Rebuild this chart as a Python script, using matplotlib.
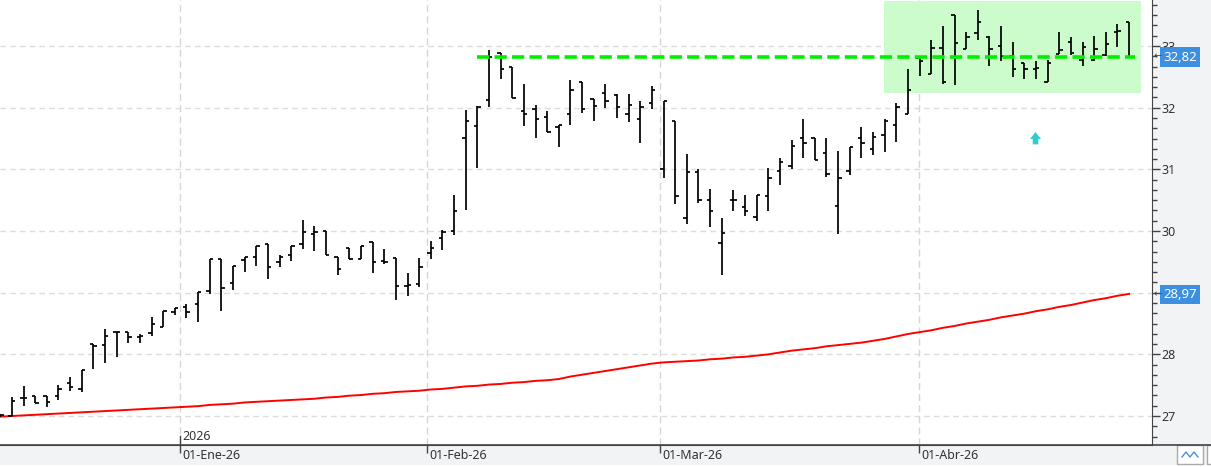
import matplotlib
matplotlib.use("Agg")
import matplotlib.pyplot as plt
from matplotlib.patches import Rectangle
from matplotlib.ticker import MultipleLocator, FixedLocator
import numpy as np

plt.rcParams['font.family'] = ['Noto Sans', 'DejaVu Sans']

# daily OHLC bars
opens = [27.00, 27.00, 27.30, 27.33, 27.33, 27.32, 27.54, 27.43, 28.17, 28.15,
         28.36, 28.37, 28.28, 28.34, 28.45, 28.68, 28.77, 28.81, 29.03, 29.55,
         29.16, 29.53, 29.58, 29.79, 29.50, 29.61, 29.79, 29.95, 30.00, 29.58,
         29.73, 29.54, 29.82, 29.52, 29.56, 29.11, 29.14, 29.64, 29.88, 30.00,
         31.51, 31.70, 32.13, 32.89, 32.66, 31.95, 31.98, 31.85, 31.69, 31.90,
         32.42, 32.14, 32.24, 32.21, 31.90, 31.82, 32.08, 31.00, 31.78, 30.21,
         30.96, 30.51, 29.80, 30.51, 30.39, 30.23, 30.56, 30.97, 31.06, 31.51,
         31.51, 31.26, 30.40, 30.97, 31.51, 31.33, 31.56, 31.72, 31.90, 32.81,
         32.55, 32.97, 33.51, 32.95, 33.21, 33.14, 33.00, 32.83, 32.73, 32.62,
         32.41, 32.87, 33.07, 32.78, 32.78, 32.86, 33.23, 33.39]
highs = [27.03, 27.31, 27.49, 27.33, 27.33, 27.51, 27.64, 27.75, 28.17, 28.41,
         28.36, 28.37, 28.33, 28.60, 28.71, 28.75, 28.81, 29.01, 29.55, 29.55,
         29.44, 29.58, 29.75, 29.79, 29.61, 29.76, 30.18, 30.08, 30.00, 29.58,
         29.73, 29.76, 29.82, 29.71, 29.56, 29.32, 29.56, 29.84, 30.02, 30.59,
         31.97, 32.03, 32.93, 32.89, 32.66, 32.39, 32.04, 31.94, 31.72, 32.45,
         32.42, 32.14, 32.39, 32.22, 32.22, 32.11, 32.35, 32.11, 31.78, 31.25,
         31.00, 30.68, 30.21, 30.66, 30.59, 30.59, 31.02, 31.18, 31.48, 31.81,
         31.51, 31.51, 31.29, 31.37, 31.69, 31.61, 31.81, 32.08, 32.62, 32.83,
         33.10, 33.32, 33.51, 33.23, 33.59, 33.16, 33.33, 33.06, 32.73, 32.75,
         32.78, 33.23, 33.15, 33.07, 33.17, 33.23, 33.36, 33.39]
lows = [26.98, 27.00, 27.17, 27.21, 27.14, 27.26, 27.41, 27.39, 27.77, 27.86,
        27.95, 28.19, 28.19, 28.29, 28.45, 28.64, 28.59, 28.53, 28.98, 28.71,
        29.05, 29.34, 29.44, 29.22, 29.41, 29.52, 29.71, 29.67, 29.61, 29.28,
        29.54, 29.54, 29.32, 29.47, 28.88, 28.94, 29.10, 29.55, 29.69, 29.94,
        30.34, 31.02, 32.01, 32.47, 32.16, 31.70, 31.51, 31.61, 31.37, 31.72,
        31.92, 31.78, 32.00, 31.84, 31.76, 31.42, 31.98, 30.86, 30.43, 30.12,
        30.46, 30.07, 29.29, 30.32, 30.24, 30.17, 30.32, 30.75, 31.01, 31.19,
        31.15, 30.87, 29.95, 30.91, 31.19, 31.24, 31.28, 31.45, 31.89, 32.52,
        32.54, 32.38, 32.37, 32.95, 33.09, 32.67, 32.75, 32.49, 32.47, 32.47,
        32.41, 32.87, 32.86, 32.67, 32.75, 32.84, 32.99, 32.82]
closes = [27.01, 27.24, 27.30, 27.21, 27.22, 27.43, 27.47, 27.75, 28.13, 28.30,
          28.36, 28.28, 28.29, 28.50, 28.71, 28.75, 28.69, 29.01, 29.55, 29.07,
          29.44, 29.58, 29.75, 29.41, 29.58, 29.76, 29.98, 29.98, 29.61, 29.38,
          29.54, 29.76, 29.49, 29.50, 29.11, 29.12, 29.41, 29.72, 29.98, 30.32,
          31.79, 32.01, 32.82, 32.62, 32.16, 31.90, 31.82, 31.61, 31.72, 32.29,
          31.98, 32.02, 32.11, 32.01, 32.04, 32.01, 32.28, 32.11, 30.56, 30.96,
          30.50, 30.32, 29.97, 30.51, 30.32, 30.59, 30.86, 31.12, 31.38, 31.43,
          31.15, 30.92, 30.86, 31.36, 31.42, 31.52, 31.78, 32.01, 32.28, 32.76,
          32.97, 32.42, 33.05, 33.14, 33.39, 32.95, 32.83, 32.62, 32.62, 32.64,
          32.73, 32.93, 32.88, 32.99, 32.95, 33.03, 33.25, 32.82]

# long moving average (red line)
ma_values = [26.99, 27.00, 27.01, 27.02, 27.03, 27.04, 27.05, 27.06, 27.07, 27.08,
             27.09, 27.10, 27.11, 27.12, 27.13, 27.14, 27.15, 27.16, 27.18, 27.19,
             27.20, 27.22, 27.23, 27.24, 27.25, 27.26, 27.27, 27.28, 27.30, 27.31,
             27.33, 27.34, 27.36, 27.37, 27.39, 27.40, 27.41, 27.43, 27.44, 27.46,
             27.48, 27.49, 27.51, 27.52, 27.54, 27.55, 27.57, 27.58, 27.60, 27.64,
             27.67, 27.70, 27.73, 27.76, 27.79, 27.82, 27.85, 27.87, 27.88, 27.89,
             27.90, 27.92, 27.93, 27.95, 27.96, 27.98, 28.00, 28.03, 28.06, 28.08,
             28.10, 28.13, 28.15, 28.17, 28.19, 28.22, 28.25, 28.29, 28.33, 28.36,
             28.39, 28.43, 28.46, 28.50, 28.53, 28.56, 28.60, 28.63, 28.66, 28.70,
             28.73, 28.77, 28.80, 28.84, 28.88, 28.91, 28.95, 28.98]

month_labels = ["01-Ene-26", "01-Feb-26", "01-Mar-26", "01-Abr-26"]
month_pos = [15.46, 36.70, 56.72, 78.97]
year_label = "2026"

# right axis labels (29 sits under the 28,97 tag)
ytick_vals = [27, 28, 29, 30, 31, 32, 33]
ytick_text = ["27", "28", "", "30", "31", "32", "33"]

resistance = 32.82
resistance_start = 40.97
zone_x = (75.94, 98.02)
zone_y = (32.24, 33.73)
last_price = 32.82
ma_last = 28.97

W, H = 1211, 467
fig = plt.figure(figsize=(W / 100, H / 100), dpi=100)
fig.patch.set_facecolor('#f2f3f5')

ax = fig.add_axes([0, 22 / H, 1152 / W, 445 / H])
ax.set_facecolor('white')

x = np.arange(len(opens))
ax.set_xlim(-0.02, 98.97)
ax.set_ylim(26.530, 33.746)

# grid
for v in ytick_vals:
    ax.axhline(v, color='#dcdcdc', lw=1, dashes=(4, 3), zorder=0)
for p in month_pos:
    ax.axvline(p, color='#d6d6d6', lw=1, dashes=(5, 3), zorder=0)

# green zone
ax.add_patch(Rectangle((zone_x[0], zone_y[0]), zone_x[1] - zone_x[0], zone_y[1] - zone_y[0],
                       facecolor='#ccfccc', edgecolor='none', zorder=1))

# OHLC bars
tw = 0.29
ax.vlines(x, lows, highs, color='black', lw=1.25, zorder=3)
ax.hlines(opens, x - tw, x, color='black', lw=1.25, zorder=3)
ax.hlines(closes, x, x + tw, color='black', lw=1.25, zorder=3)

# moving average
ax.plot(x, ma_values, color='#ff0000', lw=1.4, zorder=2)

# resistance line
ax.plot([resistance_start, x[-1] + 0.5], [resistance, resistance], color='#00ee00',
        lw=2.6, dashes=(3.4, 1.45), zorder=4)

# cyan arrow
ax.annotate('', xy=(88.96, 31.65), xytext=(88.96, 31.36),
            arrowprops=dict(arrowstyle='simple,head_width=0.8,head_length=0.5,tail_width=0.4',
                            color='#33cccc', lw=0), zorder=5)

# axes / spines
for s in ['top', 'left']:
    ax.spines[s].set_visible(False)
ax.spines['right'].set_color('#444444')
ax.spines['bottom'].set_color('#444444')

ax.yaxis.tick_right()
ax.yaxis.set_major_locator(FixedLocator(ytick_vals))
ax.yaxis.set_minor_locator(MultipleLocator(1 / 6))
ax.set_yticklabels(ytick_text)
ax.tick_params(axis='y', which='major', length=5.5, width=1, color='#444444',
               labelsize=9, labelcolor='#333333', pad=1.5)
ax.tick_params(axis='y', which='minor', length=3.5, width=1, color='#444444')

ax.set_xticks(month_pos)
ax.set_xticklabels([])
ax.tick_params(axis='x', length=6, width=1, color='#444444')

xt = ax.get_xaxis_transform()
for p, lab in zip(month_pos, month_labels):
    ax.text(p + 0.17, -0.009, lab, transform=xt, ha='left', va='top',
            fontsize=9, color='#333333', clip_on=False)
ax.plot([month_pos[0], month_pos[0]], [0, 0.02], transform=xt, color='#444444', lw=1,
        clip_on=False)
ax.text(month_pos[0] + 0.17, 0.019, year_label, transform=xt, ha='left', va='center',
        fontsize=9, color='#333333')

# bottom strip line across full width
fig.add_artist(plt.Line2D([0, 1], [22 / H, 22 / H], color='#444444', lw=1.2))
fig.add_artist(Rectangle((0, 0), 1, 2 / H, facecolor='white', edgecolor='none',
                         transform=fig.transFigure))

# price tags on the right axis
ytr = ax.get_yaxis_transform()
for val, txt in [(last_price, "32,82"), (ma_last, "28,97")]:
    ax.text(1.0095, val, txt, transform=ytr, ha='left', va='center', fontsize=9.5,
            color='white', clip_on=False, zorder=10,
            bbox=dict(boxstyle='square,pad=0.25', facecolor='#3d8fe0', edgecolor='none'))
    ax.text(1.0015, val, '\u2190', transform=ytr, ha='left', va='center', fontsize=7,
            color='#444444', clip_on=False, zorder=10)

# small icon bottom right
fig.add_artist(Rectangle((1177 / W, 3 / H), 26 / W, 19 / H, facecolor='white',
                         edgecolor='#aaaaaa', lw=1, transform=fig.transFigure))
fig.add_artist(plt.Line2D(np.array([1182, 1186, 1190, 1194, 1198]) / W,
                          np.array([10, 15, 10, 15, 10]) / H, color='#4a90d9', lw=1))
fig.add_artist(Rectangle((1207 / W, 3 / H), 6 / W, 19 / H, facecolor='white',
                         edgecolor='#aaaaaa', lw=1, transform=fig.transFigure))

fig.savefig("out.png", dpi=100, facecolor=fig.get_facecolor())
